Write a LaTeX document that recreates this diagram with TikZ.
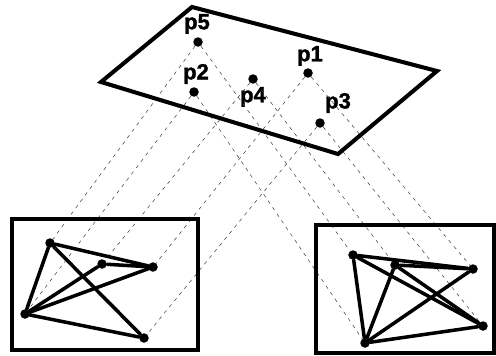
\documentclass[tikz,border=0pt]{standalone}
\usepackage{fontspec}
\setmainfont{Liberation Sans}
\newfontfamily\heavyfont[FakeBold=1.5]{Liberation Sans Bold}
\begin{document}
\begin{tikzpicture}[x=0.02cm,y=-0.02cm,
  dot/.style={circle,fill,inner sep=0pt,minimum size=0.19cm},
  lbl/.style={font=\fontsize{12.5}{14}\heavyfont,inner sep=0pt},
  ray/.style={line width=0.3pt,black!75,dash pattern=on 2pt off 2.5pt},
  edge/.style={line width=2pt,line cap=round},
  frame/.style={line width=2pt}]
\useasboundingbox (0,0) rectangle (496,355);
% plane with the scene points
\coordinate (n) at (192,7); \coordinate (e) at (437,71);
\coordinate (s) at (338,154); \coordinate (w) at (101,82);
\node[dot] (p5) at (198,42) {}; \node[lbl] (l5) at (197,24) {p5};
\node[dot] (p2) at (194,92) {}; \node[lbl] (l2) at (196,74) {p2};
\node[dot] (p4) at (253,79) {}; \node[lbl] (l4) at (253,97) {p4};
\node[dot] (p1) at (308,73) {}; \node[lbl] (l1) at (310,56) {p1};
\node[dot] (p3) at (320,123) {}; \node[lbl] (l3) at (338,103) {p3};
% left view
\node[dot] (a1) at (50,243) {};  \node[dot] (b1) at (102,264) {};
\node[dot] (c1) at (153,267) {}; \node[dot] (d1) at (25,314) {};
\node[dot] (e1) at (144,338) {};
% right view
\node[dot] (a2) at (353,255) {}; \node[dot] (b2) at (395,265) {};
\node[dot] (c2) at (473,269) {}; \node[dot] (d2) at (365,343) {};
\node[dot] (e2) at (483,326) {};
% rays
\draw[ray] (p5) to (a1); \draw[ray] (p4) to (b1);
\draw[ray] (p1) to (c1); \draw[ray] (p2) to (d1);
\draw[ray] (p3) to (e1);
\draw[ray] (p5) to (a2); \draw[ray] (p4) to (b2);
\draw[ray] (p1) to (c2); \draw[ray] (p2) to (d2);
\draw[ray] (p3) to (e2);
% frames
\draw[line width=2.3pt,line join=miter] (n) -- (e) -- (s) -- (w) -- cycle;
\draw[frame] (12,219) rectangle (198,350);
\draw[frame] (316,225) rectangle (494,353);
% image graphs
\draw[edge] (a1) to (d1); \draw[edge] (a1) to (c1);
\draw[edge] (a1) to (e1); \draw[edge] (b1) to (c1);
\draw[edge] (b1) to (d1); \draw[edge] (c1) to (d1);
\draw[edge] (d1) to (e1);
\draw[edge] (a2) to (d2); \draw[edge] (a2) to (c2);
\draw[edge] (a2) to (e2); \draw[edge] (b2) to (c2);
\draw[edge] (b2) to (e2); \draw[edge] (b2) to (d2);
\draw[edge] (c2) to (d2); \draw[edge] (d2) to (e2);
\end{tikzpicture}
\end{document}
